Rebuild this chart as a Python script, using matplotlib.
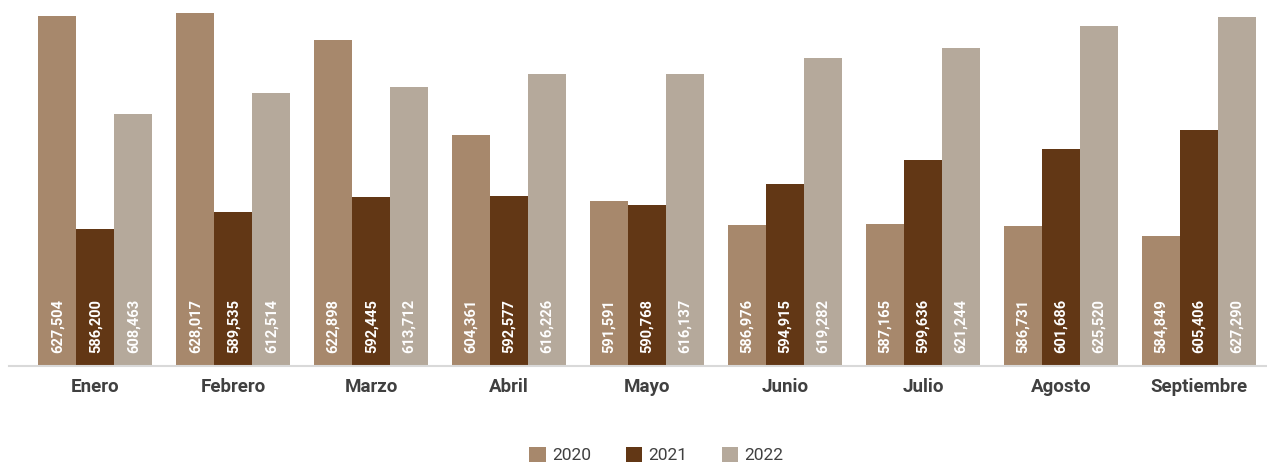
import numpy as np
import matplotlib.pyplot as plt

plt.rcParams['font.family'] = ['Roboto', 'DejaVu Sans']

# data
months = ['Enero', 'Febrero', 'Marzo', 'Abril', 'Mayo', 'Junio', 'Julio', 'Agosto', 'Septiembre']
years = ['2020', '2021', '2022']
v2020 = [627504, 628017, 622898, 604361, 591591, 586976, 587165, 586731, 584849]
v2021 = [586200, 589535, 592445, 592577, 590768, 594915, 599636, 601686, 605406]
v2022 = [608463, 612514, 613712, 616226, 616137, 619282, 621244, 625520, 627290]
colors = ['#A7886C', '#623715', '#B5A99B']

W, H = 1267, 463
fig = plt.figure(figsize=(W / 100, H / 100), dpi=100)
ax = fig.add_axes([9 / W, (H - 366) / H, 1 - 9 / W, 366 / H])

x = np.arange(len(months))
width = 0.2755
series = [v2020, v2021, v2022]
for i, (vals, c, yr) in enumerate(zip(series, colors, years)):
    pos = x + (i - 1) * width
    ax.bar(pos, vals, width=width, color=c, label=yr, zorder=2)
    for px, v in zip(pos, vals):
        ax.annotate(f'{v:,}', xy=(px, 559631), xytext=(0, 9.5), textcoords='offset points',
                    rotation=90, ha='center', va='bottom', color='white',
                    fontsize=10.5, fontweight='bold')

ax.set_ylim(559631, 559631 + 366 * 193.8)
ax.set_xlim(-0.627, 8.495)
ax.set_xticks(x)
ax.set_xticklabels(months, fontsize=13.5, fontweight='bold', color='#404040')
ax.tick_params(axis='x', length=0, pad=9)
ax.set_yticks([])
for s in ['top', 'right', 'left']:
    ax.spines[s].set_visible(False)
ax.spines['bottom'].set_color('#d9d9d9')
ax.spines['bottom'].set_linewidth(1.5)
ax.spines['bottom'].set_zorder(3)

fig.legend(loc='center', bbox_to_anchor=(0.518, 0.017), ncol=3, frameon=False,
           fontsize=12.5, handlelength=0.95, handleheight=0.95, handletextpad=0.35,
           columnspacing=2.0, borderpad=0, labelcolor='#404040')

fig.savefig('out.png', dpi=100)
